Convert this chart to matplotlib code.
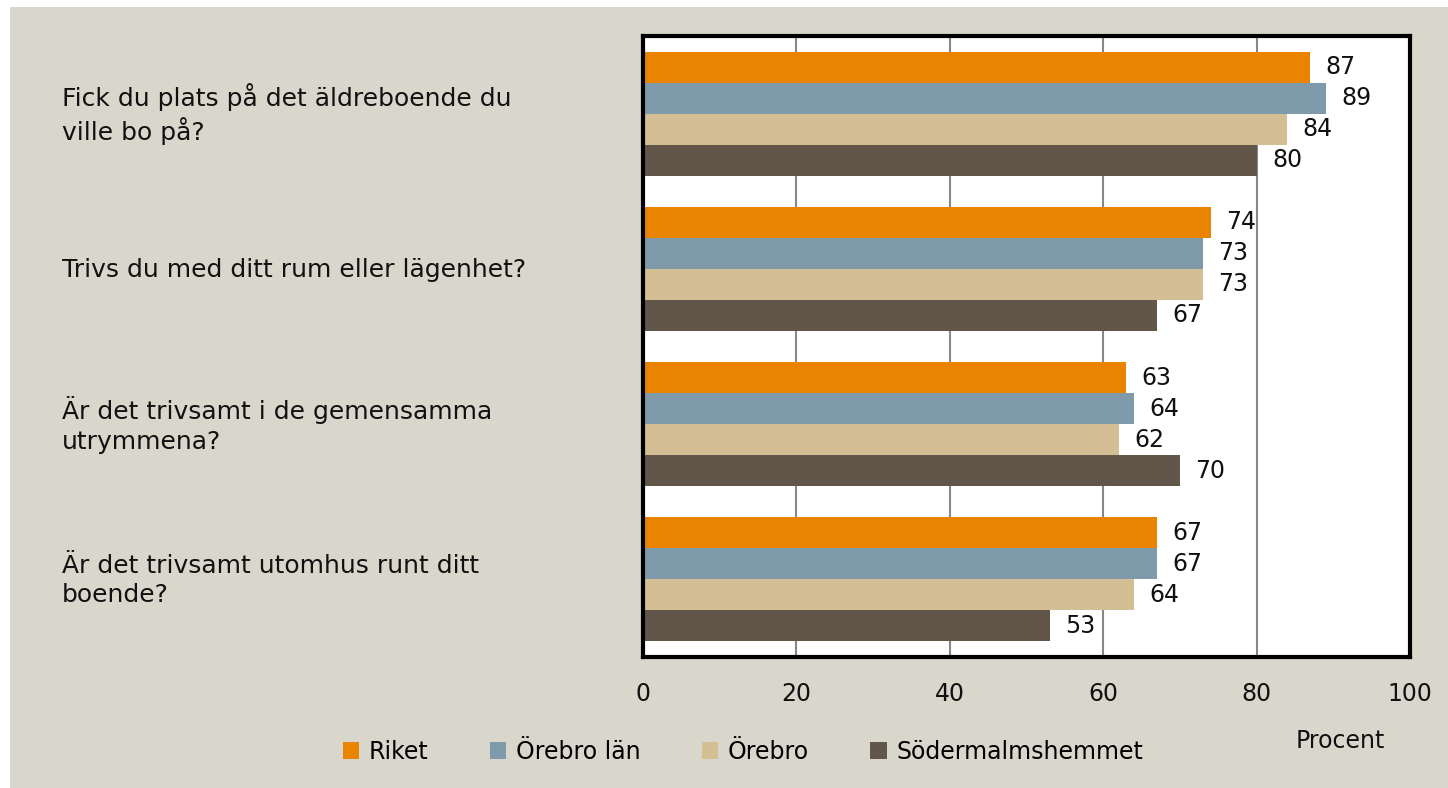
import numpy as np
import matplotlib.pyplot as plt
from matplotlib.patches import Rectangle

plt.rcParams['font.family'] = ['DejaVu Sans']

questions = ["Fick du plats på det äldreboende du\nville bo på?",
             "Trivs du med ditt rum eller lägenhet?",
             "Är det trivsamt i de gemensamma\nutrymmena?",
             "Är det trivsamt utomhus runt ditt\nboende?"]
series = ["Riket", "Örebro län", "Örebro", "Södermalmshemmet"]
riket = [87, 74, 63, 67]
orebro_lan = [89, 73, 64, 67]
orebro = [84, 73, 62, 64]
sodermalm = [80, 67, 70, 53]
values = [riket, orebro_lan, orebro, sodermalm]
colors = ["#E98300", "#7E9AAB", "#D4BE94", "#62554A"]

fig = plt.figure(figsize=(14.48, 7.88), dpi=100, facecolor='white')
fig.patches.append(Rectangle((10/1448, 0), 1, 1 - 7/788, transform=fig.transFigure,
                             facecolor='#D9D7CB', edgecolor='none', zorder=-10))
ax = fig.add_axes([643/1448, 1 - 657/788, 767/1448, 621/788])
ax.set_facecolor('white')

y = np.arange(len(questions))
h = 0.2
for j, (name, vals, c) in enumerate(zip(series, values, colors)):
    pos = y + (j - 1.5) * h
    ax.barh(pos, vals, height=h, color=c, label=name, zorder=2)
    for p, v in zip(pos, vals):
        ax.text(v + 2.0, p, str(v), va='center', ha='left', fontsize=17, color='#111111')

ax.set_xlim(0, 100)
ax.set_ylim(3.5, -0.5)
ax.set_xticks(range(0, 101, 20))
ax.set_yticks([])
ax.grid(axis='x', color='#888888', linewidth=1.5, zorder=1)
ax.tick_params(axis='x', length=0, pad=18, labelsize=17, labelcolor='#111111')
for s in ax.spines.values():
    s.set_linewidth(3)
    s.set_color('black')

for i, q in enumerate(questions):
    fig.text(62/1448, 1 - (114 + i * 155.5)/788, q, ha='left', va='center',
             fontsize=18, color='#111111', linespacing=1.3)

fig.legend(loc='center', bbox_to_anchor=(0.513, 1 - 752/788), ncol=4, frameon=False,
           fontsize=17, handlelength=0.7, handleheight=0.7, handletextpad=0.4,
           columnspacing=2.6)
fig.text(1340/1448, 1 - 741/788, "Procent", ha='center', va='center', fontsize=17,
         color='#111111')

fig.savefig('out.png', dpi=100, facecolor=fig.get_facecolor())
